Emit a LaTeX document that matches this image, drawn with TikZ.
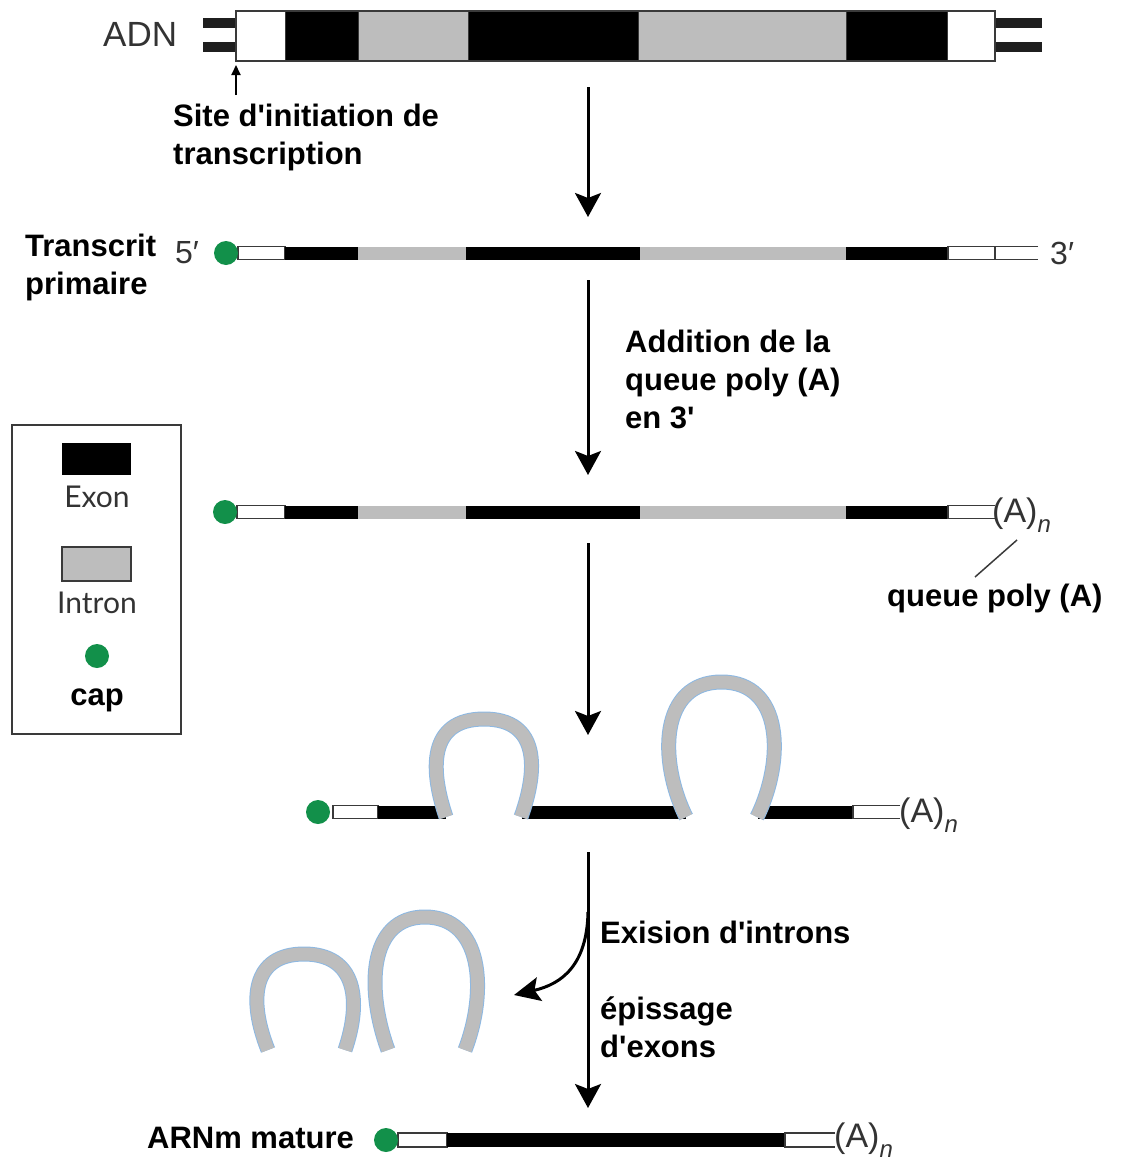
\documentclass[tikz,border=0pt]{standalone}
\usepackage{fontspec}
\setmainfont{Liberation Sans}
\newfontfamily\gillfont{Lato}
\usetikzlibrary{arrows.meta}
\definecolor{capgreen}{HTML}{12904A}
\definecolor{introngray}{HTML}{BDBDBD}
\definecolor{txtgray}{HTML}{333333}
\definecolor{edgegray}{HTML}{3A3A3A}
\definecolor{loopblue}{HTML}{8DB8E2}
\tikzset{
  lbl/.style={font=\fontsize{31}{38}\selectfont\bfseries, inner sep=0pt, text=black, align=left},
  endlbl/.style={font=\fontsize{32}{38}\selectfont, inner sep=0pt, text=txtgray},
  legendlbl/.style={font=\gillfont\fontsize{30}{36}\selectfont, inner sep=0pt, text=txtgray},
  mainarrow/.style={line width=3pt, -{Stealth[length=24pt,width=26pt,inset=5pt]}},
  capdot/.style={fill=capgreen},
  whiteseg/.style={fill=white, draw=edgegray, line width=1.5pt},
  openseg/.style={draw=edgegray, line width=1.5pt},
  loopedge/.style={line width=15pt, loopblue},
  loopfill/.style={line width=13pt, introngray}
}
\newcommand{\mrnaloop}[1]{%
  \draw[loopedge] #1;
  \draw[loopfill] #1;}
\newcommand{\ap}{\textquotesingle}
\newcommand{\polyA}{(A)\raisebox{-0.3em}{\fontsize{24}{28}\selectfont\itshape n}}
\begin{document}
\begin{tikzpicture}[x=1pt,y=-1pt]
\useasboundingbox (0,0) rectangle (1122,1162);

% ---------------- DNA ----------------
\fill[black!88] (203,18) rectangle (236,28);
\fill[black!88] (203,42) rectangle (236,52);
\fill[black!88] (995,18) rectangle (1042,28);
\fill[black!88] (995,42) rectangle (1042,52);
\fill[white] (236,11) rectangle (285,61);
\fill[black] (285,11) rectangle (358,61);
\fill[introngray] (358,11) rectangle (468,61);
\fill[black] (468,11) rectangle (638,61);
\fill[introngray] (638,11) rectangle (846,61);
\fill[black] (846,11) rectangle (947,61);
\foreach \xx in {285,358,468,638,846,947} \draw[edgegray, line width=1pt] (\xx,11) -- (\xx,61);
\draw[edgegray, line width=2pt] (236,11) rectangle (995,61);
\node[endlbl, font=\fontsize{35}{40}\selectfont, anchor=west] (adn) at (103,34) {ADN};

\coordinate (tss) at (236,65);
\coordinate (tssfoot) at (236,95);
\draw[line width=2pt, -{Triangle[length=10pt,width=9pt]}] (tssfoot) -- (tss);
\node[lbl, anchor=west] (site) at (173,137) {Site d\ap initiation de\\transcription};

\coordinate (a1s) at (588,87);
\coordinate (a1e) at (588,217);
\draw[mainarrow] (a1s) -- (a1e);

% ---------------- Primary transcript ----------------
\node[lbl, anchor=west] (prim) at (25,267) {Transcrit\\primaire};
\node[endlbl, anchor=west] (five) at (175,253) {5′};
\draw[whiteseg] (238,246.5) rectangle (285,259.5);
\fill[black] (285,246.5) rectangle (358,259.5);
\fill[introngray] (358,246.5) rectangle (466,259.5);
\fill[black] (466,246.5) rectangle (640,259.5);
\fill[introngray] (640,246.5) rectangle (846,259.5);
\fill[black] (846,246.5) rectangle (948,259.5);
\draw[openseg] (1038,246.5) -- (948,246.5) -- (948,259.5) -- (1038,259.5);
\draw[openseg] (995,246.5) -- (995,259.5);
\node[capdot, circle, minimum size=24pt, inner sep=0pt] (cap1) at (226,253) {};
\node[endlbl, anchor=west] (three) at (1050,253) {3′};

\coordinate (a2s) at (588,280);
\coordinate (a2e) at (588,475);
\draw[mainarrow] (a2s) -- (a2e);
\node[lbl, anchor=west] (addtxt) at (625,379) {Addition de la\\queue poly (A)\\en 3\ap};

% ---------------- With poly(A) ----------------
\draw[whiteseg] (237,505.5) rectangle (285,518.5);
\fill[black] (285,505.5) rectangle (358,518.5);
\fill[introngray] (358,505.5) rectangle (466,518.5);
\fill[black] (466,505.5) rectangle (640,518.5);
\fill[introngray] (640,505.5) rectangle (846,518.5);
\fill[black] (846,505.5) rectangle (948,518.5);
\draw[openseg] (995,505.5) -- (948,505.5) -- (948,518.5) -- (995,518.5);
\node[capdot, circle, minimum size=24pt, inner sep=0pt] (cap2) at (225,512) {};
\node[endlbl, font=\fontsize{34}{40}\selectfont, anchor=west] (pa2) at (992,515) {\polyA};
\coordinate (pa2tail) at (1017,540);
\node[lbl, anchor=west] (qtxt) at (887,598) {queue poly (A)};
\coordinate (qhead) at (975,577);
\draw[line width=1.5pt, edgegray] (pa2tail) -- (qhead);

\coordinate (a3s) at (588,543);
\coordinate (a3e) at (588,735);
\draw[mainarrow] (a3s) -- (a3e);

% ---------------- Legend ----------------
\draw[line width=1.5pt, edgegray] (12,425) rectangle (181,734);
\fill[black] (62,443) rectangle (131,475);
\node[legendlbl] (exon) at (97,497) {Exon};
\draw[fill=introngray, draw=edgegray, line width=1.5pt] (62,547) rectangle (131,581);
\node[legendlbl] (intron) at (97,603) {Intron};
\node[capdot, circle, minimum size=24pt, inner sep=0pt] (cap0) at (97,656) {};
\node[lbl] (captxt) at (97,700) {cap};

% ---------------- Lariat stage ----------------
\draw[whiteseg] (333,805.5) rectangle (378,818.5);
\fill[black] (378,805.5) rectangle (446,818.5);
\fill[black] (522,805.5) rectangle (686,818.5);
\fill[black] (758,805.5) rectangle (853,818.5);
\draw[openseg] (900,805.5) -- (853,805.5) -- (853,818.5) -- (900,818.5);
\mrnaloop{(446,817) .. controls (430,770) and (428,719) .. (484,719) .. controls (540,719) and (538,770) .. (521,817)}
\mrnaloop{(686,817) .. controls (658,760) and (660,682) .. (721.5,682) .. controls (783,682) and (785,760) .. (757,817)}
\node[capdot, circle, minimum size=24pt, inner sep=0pt] (cap3) at (318,812) {};
\node[endlbl, font=\fontsize{34}{40}\selectfont, anchor=west] (pa3) at (899,815) {\polyA};

\coordinate (a4s) at (588,852);
\coordinate (a4e) at (588,1108);
\draw[mainarrow] (a4s) -- (a4e);
\coordinate (brs) at (588,912);
\coordinate (bre) at (514,995);
\draw[line width=3pt, -{Stealth[length=26pt,width=24pt,inset=5pt]}] (brs) .. controls (587,965) and (562,984) .. (bre);
\node[lbl, anchor=west] (exis) at (600,932) {Exision d\ap introns};
\node[lbl, anchor=west] (episs) at (600,1027) {épissage\\d\ap exons};

% excised introns
\mrnaloop{(268,1050) .. controls (248,1000) and (252,954) .. (304,954) .. controls (356,954) and (362,1000) .. (345,1050)}
\mrnaloop{(388,1050) .. controls (366,990) and (368,917) .. (425,917) .. controls (482,917) and (488,990) .. (465,1050)}

% ---------------- Mature mRNA ----------------
\node[lbl, anchor=west] (arnm) at (147,1138) {ARNm mature};
\draw[whiteseg] (398,1133) rectangle (447,1147);
\fill[black] (447,1133) rectangle (785,1147);
\draw[openseg] (835,1133) -- (785,1133) -- (785,1147) -- (835,1147);
\node[capdot, circle, minimum size=24pt, inner sep=0pt] (cap4) at (386,1140) {};
\node[endlbl, font=\fontsize{34}{40}\selectfont, anchor=west] (pa4) at (834,1140) {\polyA};
\end{tikzpicture}
\end{document}
